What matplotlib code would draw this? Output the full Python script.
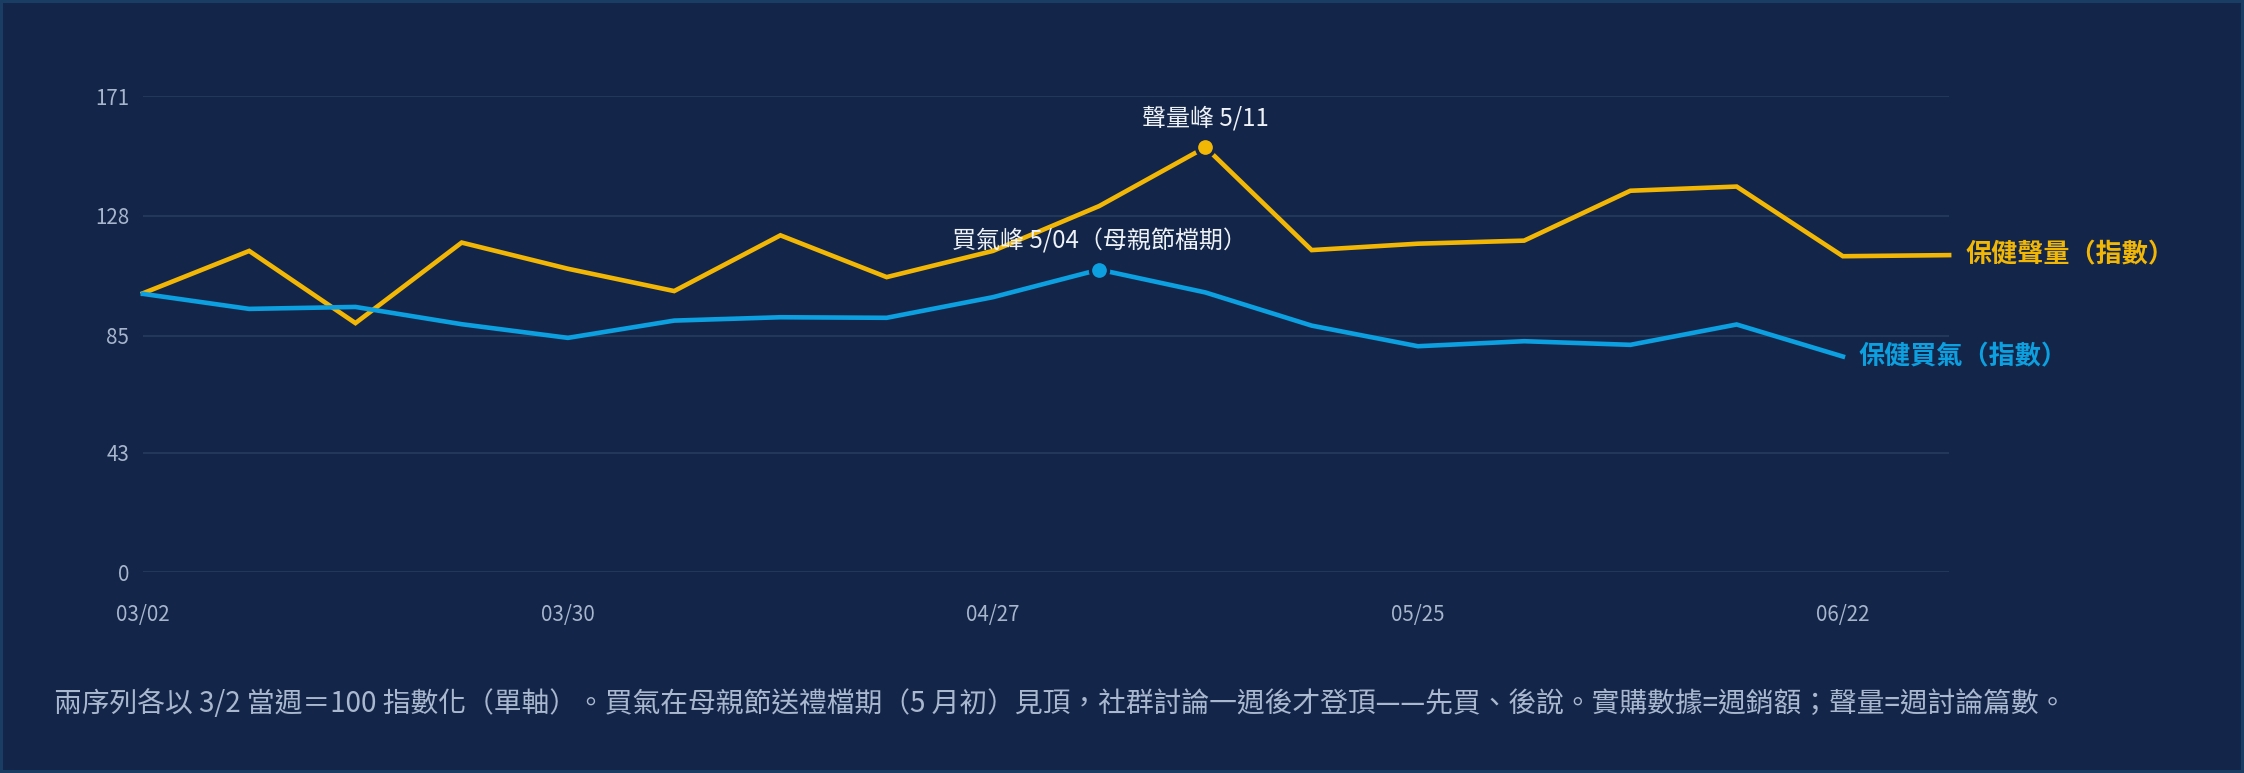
import matplotlib
matplotlib.use("Agg")
import matplotlib.pyplot as plt

plt.rcParams["font.family"] = ["Noto Sans CJK TC", "DejaVu Sans"]

# ---- palette ----
BG = "#13264A"
GRID = "#233A5C"
TICK = "#A7B6CC"
NOTE = "#A9B8CE"
WHITE = "#EEF2F7"
GOLD = "#F2B705"
BLUE = "#0DA0E0"

weeks = ["03/02", "03/09", "03/16", "03/23", "03/30", "04/06", "04/13", "04/20",
         "04/27", "05/04", "05/11", "05/18", "05/25", "06/01", "06/08", "06/15",
         "06/22", "06/29"]
voice = [100.2, 115.4, 89.5, 118.4, 109.0, 101.0, 121.0, 106.0, 115.4, 131.5,
         152.6, 115.7, 118.0, 119.1, 137.0, 138.5, 113.5, 113.9]
buying = [100.0, 94.6, 95.3, 89.1, 84.2, 90.4, 91.6, 91.4, 98.8, 108.7,
          100.5, 88.6, 81.2, 83.0, 81.7, 89.0, 77.5]
ytick_vals = [0, 43, 85, 128, 171]
xtick_labels = ["03/02", "03/30", "04/27", "05/25", "06/22"]

fig = plt.figure(figsize=(22.44, 7.73), dpi=100)
fig.patch.set_facecolor(BG)
fig.patch.set_edgecolor("#1A3D63")
fig.patch.set_linewidth(3)
ax = fig.add_axes([0.0637, 0.2594, 0.8049, 0.6164])
ax.set_facecolor(BG)

xv = list(range(len(voice)))
xb = list(range(len(buying)))
ax.plot(xv, voice, color=GOLD, lw=3.3, solid_joinstyle="miter", zorder=3, clip_on=False)
ax.plot(xb, buying, color=BLUE, lw=3.3, solid_joinstyle="miter", zorder=3, clip_on=False)

# peaks
iv = voice.index(max(voice))
ib = buying.index(max(buying))
ax.plot(iv, voice[iv], "o", ms=13, color=GOLD, mec=BG, mew=2.4, zorder=5, clip_on=False)
ax.plot(ib, buying[ib], "o", ms=13, color=BLUE, mec=BG, mew=2.4, zorder=5, clip_on=False)
ax.annotate("聲量峰 5/11", (iv, voice[iv]), xytext=(0, 20.5), textcoords="offset points",
            ha="center", va="center", fontsize=17.3, color=WHITE)
ax.annotate("買氣峰 5/04（母親節檔期）", (ib, buying[ib]), xytext=(0, 20.5),
            textcoords="offset points", ha="center", va="center", fontsize=17.3, color=WHITE)

# end labels
ax.annotate("保健聲量（指數）", (xv[-1], voice[-1]), xytext=(12, 0), textcoords="offset points",
            ha="left", va="center", fontsize=18.8, fontweight="bold", color=GOLD,
            annotation_clip=False)
ax.annotate("保健買氣（指數）", (xb[-1], buying[-1]), xytext=(11, 0), textcoords="offset points",
            ha="left", va="center", fontsize=18.8, fontweight="bold", color=BLUE,
            annotation_clip=False)

ax.set_xlim(0, len(voice) - 1)
ax.set_ylim(0, 171)
ax.set_yticks(ytick_vals)
ax.set_yticklabels([str(v) for v in ytick_vals])
ax.set_xticks([weeks.index(w) for w in xtick_labels])
ax.set_xticklabels(xtick_labels)
ax.grid(axis="y", color=GRID, lw=1.3)
ax.set_axisbelow(True)
for s in ax.spines.values():
    s.set_visible(False)
ax.tick_params(axis="both", length=0, colors=TICK, labelsize=14.8)
ax.tick_params(axis="x", pad=23)
ax.tick_params(axis="y", pad=10)

fig.text(0.024, 0.089,
         "兩序列各以 3/2 當週＝100 指數化（單軸）。買氣在母親節送禮檔期（5 月初）見頂，"
         "社群討論一週後才登頂——先買、後說。實購數據=週銷額；聲量=週討論篇數。",
         fontsize=20, color=NOTE, ha="left", va="center")

fig.savefig("out.png", dpi=100, facecolor=BG, edgecolor=fig.get_edgecolor())
